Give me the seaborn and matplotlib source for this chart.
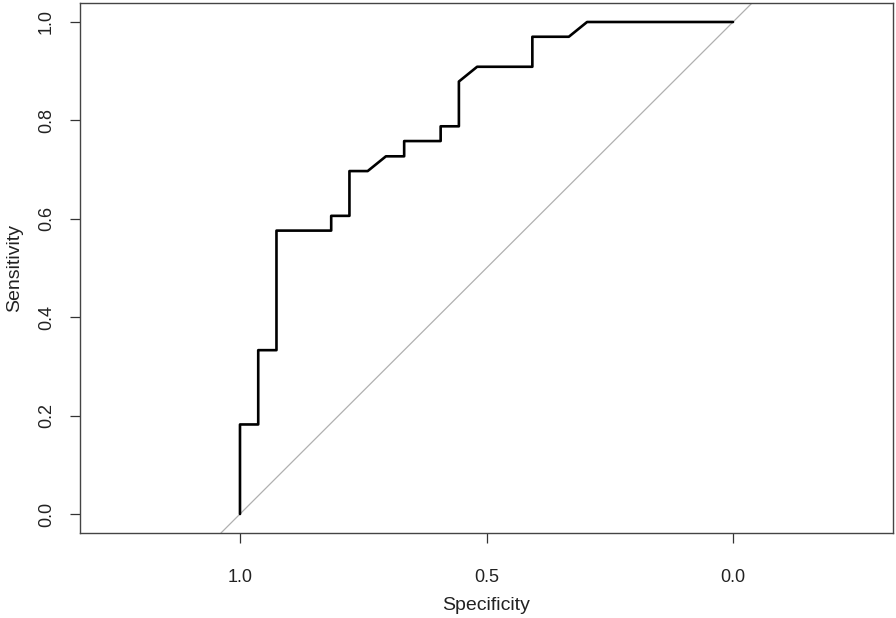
import matplotlib
matplotlib.use("Agg")
import matplotlib.pyplot as plt
import seaborn as sns
import pandas as pd

# ROC curve points (specificity, sensitivity)
specificity = [1.0, 1.0, 0.963, 0.963, 0.926, 0.926, 0.815, 0.815, 0.778, 0.778,
               0.741, 0.704, 0.667, 0.667, 0.593, 0.593, 0.556, 0.556, 0.519,
               0.407, 0.407, 0.333, 0.296, 0.0]
sensitivity = [0.0, 0.182, 0.182, 0.333, 0.333, 0.576, 0.576, 0.606, 0.606, 0.697,
               0.697, 0.727, 0.727, 0.758, 0.758, 0.788, 0.788, 0.879, 0.909,
               0.909, 0.970, 0.970, 1.0, 1.0]
x_ticks = [1.0, 0.5, 0.0]
x_tick_labels = ["1.0", "0.5", "0.0"]
y_ticks = [0.0, 0.2, 0.4, 0.6, 0.8, 1.0]
y_tick_labels = ["0.0", "0.2", "0.4", "0.6", "0.8", "1.0"]

df = pd.DataFrame({"Specificity": specificity, "Sensitivity": sensitivity})

sns.set_style("white")
plt.rcParams["font.family"] = ["Liberation Sans", "DejaVu Sans"]

fig = plt.figure(figsize=(8.96, 6.18), dpi=100)
ax = fig.add_axes([80 / 896, (618 - 533) / 618, (893 - 80) / 896, (533 - 3) / 618])

ax.axline((1.0, 0.0), (0.0, 1.0), color="#b0b0b0", lw=0.9, zorder=1)
sns.lineplot(data=df, x="Specificity", y="Sensitivity", sort=False, estimator=None,
             color="black", lw=1.9, ax=ax, zorder=2)

ax.set_xlim(1.3245, -0.3245)
ax.set_ylim(-0.0386, 1.0386)
ax.set_xticks(x_ticks)
ax.set_xticklabels(x_tick_labels)
ax.set_yticks(y_ticks)
ax.set_yticklabels(y_tick_labels, rotation=90, va="center")
ax.tick_params(axis="both", direction="out", length=7, width=0.9, color="#333333",
               labelsize=13, labelcolor="#222222")
ax.tick_params(axis="x", pad=19)
ax.tick_params(axis="y", pad=11)
ax.tick_params(axis="both", which="both", bottom=True, left=True)
for s in ax.spines.values():
    s.set_color("#444444")
    s.set_linewidth(1.0)
ax.set_xlabel("Specificity", fontsize=14, color="#222222", labelpad=8)
ax.set_ylabel("Sensitivity", fontsize=14, color="#222222", labelpad=11)
ax.grid(False)

fig.savefig("out.png", dpi=100)
